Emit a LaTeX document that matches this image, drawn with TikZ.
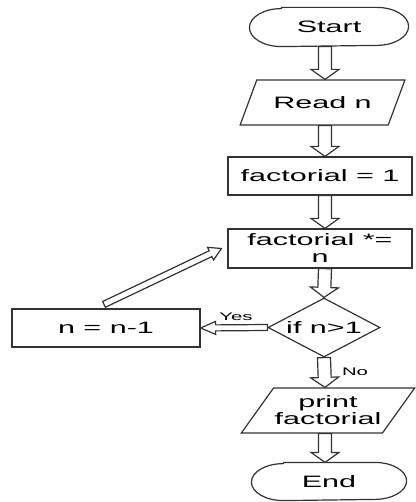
\documentclass[tikz,border=0pt]{standalone}
\usepackage{fontspec}
\setmainfont{Liberation Sans}[FakeStretch=1.85]
\usetikzlibrary{calc,shapes.geometric}

\tikzset{
	hollow/.style n args={3}{
		to path={
			($(\tikztotarget)!#3!(\tikztostart)$) coordinate (hb)
			($(\tikztostart)!#1!90:(\tikztotarget)$)
			-- ($(hb)!#1!-90:(\tikztostart)$)
			-- ($(hb)!#2!-90:(\tikztostart)$)
			-- (\tikztotarget)
			-- ($(hb)!#2!90:(\tikztostart)$)
			-- ($(hb)!#1!90:(\tikztostart)$)
			-- ($(\tikztostart)!#1!-90:(\tikztotarget)$)
			-- cycle
		}
	},
	flowv/.style={draw, fill=white, line join=miter, hollow={6.5pt}{14pt}{10pt}},
	flowh/.style={draw, fill=white, line join=miter, hollow={3pt}{6.5pt}{15pt}},
	flowd/.style={draw, fill=white, line join=miter, hollow={3.2pt}{7pt}{12pt}},
	txt/.style={font=\fontsize{16.5}{17}\selectfont, align=center},
	small/.style={font=\fontsize{11}{12}\selectfont},
	term/.style={txt, rectangle, minimum width=158pt, minimum height=38pt},
	io/.style={txt, draw, trapezium, trapezium stretches=true, inner sep=1pt, minimum height=45pt},
	proc/.style={txt, draw, rectangle, inner sep=1pt, minimum height=38pt},
	test/.style={txt, draw, diamond, aspect=1.9, inner sep=0pt, minimum width=112pt, minimum height=59pt}
}

% outline of a terminal node, ends drawn as half ellipses
\newcommand{\stadium}[2]{%
	\draw ([xshift=32pt]#1.north west) -- ([xshift=-32pt]#1.north east)
		arc[start angle=90, end angle=-90, x radius=32pt, y radius=#2]
		-- ([xshift=32pt]#1.south west)
		arc[start angle=270, end angle=90, x radius=32pt, y radius=#2] -- cycle;}

\begin{document}
\begin{tikzpicture}[x=1pt, y=-1pt, line width=1.2pt, draw=black!80]
	\useasboundingbox (0,0) rectangle (415,502);
	
	% Column of the flowchart
	\coordinate (axis) at (325,0);
	
	% Start and read the input
	\node[term] (start) at (329,27) {Start};
	\stadium{start}{19pt}
	\node[io, trapezium left angle=48, trapezium right angle=132, minimum width=165pt] (read) at (322.5,102.5) {Read n};
	
	% Set up and update the product
	\node[proc, minimum width=184pt] (fone) at (320,176) {factorial = 1};
	\node[proc, minimum width=184pt, minimum height=39pt] (fmul) at (320,248.5) {factorial *=\\n};
	
	% Loop test
	\node[test] (check) at (324,327.5) {if n>1};
	\node[proc, minimum width=188pt] (dec) at (106,328) {n = n-1};
	
	% Output and stop
	\node[io, trapezium left angle=44, trapezium right angle=136, minimum width=170pt] (print) at (328,410.5) {print\\factorial};
	\node[term, minimum width=154pt, minimum height=37pt] (stop) at (329,481.5) {End};
	\stadium{stop}{18.5pt}
	
	% Arrows down the column
	\draw[flowv] (start.south -| axis) to (read.north -| axis);
	\draw[flowv] (read.south -| axis) to (fone.north -| axis);
	\draw[flowv] (fone.south -| axis) to (fmul.north -| axis);
	\draw[flowv] (fmul.south -| axis) to (check.north);
	\draw[flowv] (check.south) to (print.north -| axis);
	\draw[flowv] (print.south -| axis) to (stop.north -| axis);
	
	% Loop back
	\draw[flowh] (check.west) to (dec.east);
	\draw[flowd] ([shift={(-2,-4)}]dec.north) to ([xshift=-6pt]fmul.west);
	
	% Branch labels
	\node[small] (yes) at (236,317) {Yes};
	\node[small] (no) at (355,372) {No};
\end{tikzpicture}
\end{document}
